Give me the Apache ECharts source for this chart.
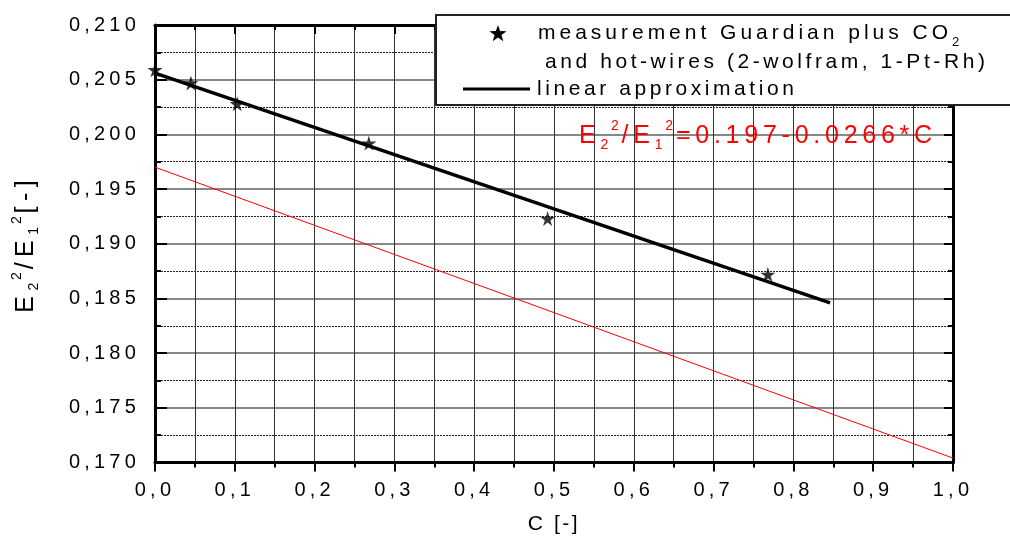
<!DOCTYPE html>
<html>
<head>
<meta charset="utf-8">
<script src="https://cdn.jsdelivr.net/npm/echarts@6/dist/echarts.min.js"></script>
<style>
html,body{margin:0;padding:0;background:#fff;}
#main{width:1010px;height:541px;}
</style>
</head>
<body>
<div id="main"></div>
<script>
// ---- data ----
const measC = [0.000, 0.045, 0.103, 0.268, 0.492, 0.768];
const measE = [0.2059, 0.2047, 0.2028, 0.1992, 0.1923, 0.1872];
const fitC = [0.000, 0.846];
const fitE = [0.2056, 0.1846];
const eqC = [0.0, 1.0];
const eqE = [0.197, 0.1704];
const xTickLabels = ['0,0','0,1','0,2','0,3','0,4','0,5','0,6','0,7','0,8','0,9','1,0'];
const yTickLabels = ['0,170','0,175','0,180','0,185','0,190','0,195','0,200','0,205','0,210'];

// wide letter spacing like the original print (amount taken from an "spNN" marker in the family list)
(function(){
  try{
    const P = CanvasRenderingContext2D.prototype;
    if (!('letterSpacing' in P)) return;
    const setLs = function(ctx){
      const font = ctx.font || '';
      const m = /(\d+(?:\.\d+)?)px/.exec(font);
      const s = m ? parseFloat(m[1]) : 12;
      const k = /sp(\d+)/.exec(font);
      const f = k ? parseInt(k[1], 10) / 100 : 0.2;
      ctx.letterSpacing = (s*f).toFixed(2) + 'px';
    };
    const f = P.fillText, mt = P.measureText;
    P.fillText = function(t,x,y,w){ setLs(this); return w === undefined ? f.call(this,t,x,y) : f.call(this,t,x,y,w); };
    P.measureText = function(t){ setLs(this); return mt.call(this,t); };
  }catch(e){}
})();

const FAM = function(sp){ return '"Liberation Sans", sp' + sp + ', sans-serif'; };
const starPath = 'path://M50,0 L61,35 L98,35 L68,57 L79,91 L50,70 L21,91 L32,57 L2,35 L39,35 Z';

function starPoints(cx, cy, r){
  const pts = [];
  for (let i = 0; i < 10; i++){
    const a = -Math.PI/2 + i*Math.PI/5;
    const rr = i % 2 === 0 ? r : r*0.4;
    pts.push([cx + rr*Math.cos(a), cy + rr*Math.sin(a)]);
  }
  return pts;
}

const chart = echarts.init(document.getElementById('main'), null, {renderer:'canvas'});

const option = {
  animation: false,
  backgroundColor: '#fff',
  textStyle: {fontFamily: FAM(20)},
  grid: {left: 155, right: 57, top: 25, bottom: 76, containLabel: false},
  xAxis: [{
    type: 'value', min: 0, max: 1, interval: 0.1, position: 'bottom',
    name: 'C [-]', nameLocation: 'middle', nameGap: 50,
    nameTextStyle: {fontFamily: FAM(12), fontSize: 21, color: '#000'},
    axisLine: {show: true, onZero: false, lineStyle: {color: '#000', width: 3}},
    axisTick: {show: true, inside: false, length: 9, lineStyle: {color: '#000', width: 2}},
    minorTick: {show: true, splitNumber: 2, length: 5, lineStyle: {color: '#000', width: 2}},
    axisLabel: {margin: 16, fontFamily: FAM(21), fontSize: 20, color: '#000',
      formatter: function(v){ return xTickLabels[Math.round(v*10)]; }},
    splitLine: {show: true, lineStyle: {color: '#333', width: 1}},
    minorSplitLine: {show: true, lineStyle: {color: '#333', width: 1}}
  },{
    type: 'value', min: 0, max: 1, interval: 0.1, position: 'top',
    axisLine: {show: true, onZero: false, lineStyle: {color: '#000', width: 3}},
    axisTick: {show: true, inside: true, length: 9, lineStyle: {color: '#000', width: 2}},
    minorTick: {show: true, splitNumber: 2, length: 5, lineStyle: {color: '#000', width: 2}},
    axisLabel: {show: false},
    splitLine: {show: false}
  }],
  yAxis: [{
    type: 'value', min: 0.170, max: 0.210, interval: 0.005, position: 'left',
    name: '{b|E}{sub|2}{sup|2}{b|/E}{sub|1}{sup|2}{b|[-]}',
    nameLocation: 'middle', nameRotate: 90, nameGap: 112,
    nameTextStyle: {
      fontFamily: FAM(22), fontSize: 25, color: '#000',
      rich: {
        b: {fontFamily: FAM(22), fontSize: 25, lineHeight: 34, color: '#000'},
        sub: {fontFamily: FAM(20), fontSize: 14, lineHeight: 14, verticalAlign: 'bottom', color: '#000'},
        sup: {fontFamily: FAM(20), fontSize: 14, lineHeight: 14, verticalAlign: 'top', color: '#000'}
      }
    },
    axisLine: {show: true, onZero: false, lineStyle: {color: '#000', width: 3}},
    axisTick: {show: true, inside: true, length: 12, lineStyle: {color: '#000', width: 2}},
    minorTick: {show: true, splitNumber: 2, length: 6, lineStyle: {color: '#000', width: 2}},
    axisLabel: {margin: 15, fontFamily: FAM(21), fontSize: 20, color: '#000',
      formatter: function(v){ return yTickLabels[Math.round((v - 0.170)/0.005)]; }},
    splitLine: {show: true, lineStyle: {color: '#888', width: 2}},
    minorSplitLine: {show: true, lineStyle: {color: '#222', width: 1, type: [2, 1]}}
  },{
    type: 'value', min: 0.170, max: 0.210, interval: 0.005, position: 'right',
    axisLine: {show: true, onZero: false, lineStyle: {color: '#000', width: 3}},
    axisTick: {show: true, inside: true, length: 9, lineStyle: {color: '#000', width: 2}},
    minorTick: {show: true, splitNumber: 2, length: 5, lineStyle: {color: '#000', width: 2}},
    axisLabel: {show: false},
    splitLine: {show: false}
  }],
  series: [{
    name: 'linear approximation',
    type: 'line', xAxisIndex: 0, yAxisIndex: 0,
    data: fitC.map((c, i) => [c, fitE[i]]),
    showSymbol: false, symbol: 'none',
    lineStyle: {color: '#000', width: 3.5},
    z: 3
  },{
    name: 'E2^2/E1^2 = 0.197 - 0.0266*C',
    type: 'line', xAxisIndex: 0, yAxisIndex: 0,
    data: eqC.map((c, i) => [c, eqE[i]]),
    showSymbol: false, symbol: 'none',
    lineStyle: {color: '#ff0000', width: 1},
    z: 2
  },{
    name: 'measurement Guardian plus CO2 and hot-wires (2-wolfram, 1-Pt-Rh)',
    type: 'scatter', xAxisIndex: 0, yAxisIndex: 0,
    data: measC.map((c, i) => [c, measE[i]]),
    symbol: starPath, symbolSize: 15,
    itemStyle: {color: '#000'},
    clip: false,
    z: 4
  }],
  graphic: [{
    type: 'rect', z: 100, shape: {x: 436, y: 15, width: 590, height: 90},
    style: {fill: '#fff', stroke: '#222', lineWidth: 2}
  },{
    type: 'polygon', z: 101, shape: {points: starPoints(498, 34, 9)},
    style: {fill: '#000'}
  },{
    type: 'text', z: 101, x: 538, y: 33,
    style: {
      text: '{a|measurement Guardian plus CO}{s|2}',
      verticalAlign: 'middle', align: 'left',
      rich: {
        a: {fontFamily: FAM(19), fontSize: 21, lineHeight: 34, fill: '#000'},
        s: {fontFamily: FAM(20), fontSize: 13, lineHeight: 13, verticalAlign: 'bottom', fill: '#000'}
      }
    }
  },{
    type: 'text', z: 101, x: 545, y: 62,
    style: {text: 'and hot-wires (2-wolfram, 1-Pt-Rh)', fontFamily: FAM(17), fontSize: 21, fill: '#000',
      verticalAlign: 'middle', align: 'left'}
  },{
    type: 'line', z: 101, shape: {x1: 463, y1: 89, x2: 530, y2: 89},
    style: {stroke: '#000', lineWidth: 3}
  },{
    type: 'text', z: 101, x: 537, y: 89,
    style: {text: 'linear approximation', fontFamily: FAM(17), fontSize: 21, fill: '#000',
      verticalAlign: 'middle', align: 'left'}
  },{
    type: 'text', z: 101, x: 579, y: 136,
    style: {
      text: '{b|E}{sub|2}{sup|2}{b|/E}{sub|1}{sup|2}{b|=0.197-0.0266*C}',
      verticalAlign: 'middle', align: 'left',
      rich: {
        b: {fontFamily: FAM(19), fontSize: 25, lineHeight: 36, fill: '#ff0000'},
        sub: {fontFamily: FAM(20), fontSize: 14, lineHeight: 14, verticalAlign: 'bottom', fill: '#ff0000'},
        sup: {fontFamily: FAM(20), fontSize: 14, lineHeight: 14, verticalAlign: 'top', fill: '#ff0000'}
      }
    }
  }]
};
chart.setOption(option);
</script>
</body>
</html>
